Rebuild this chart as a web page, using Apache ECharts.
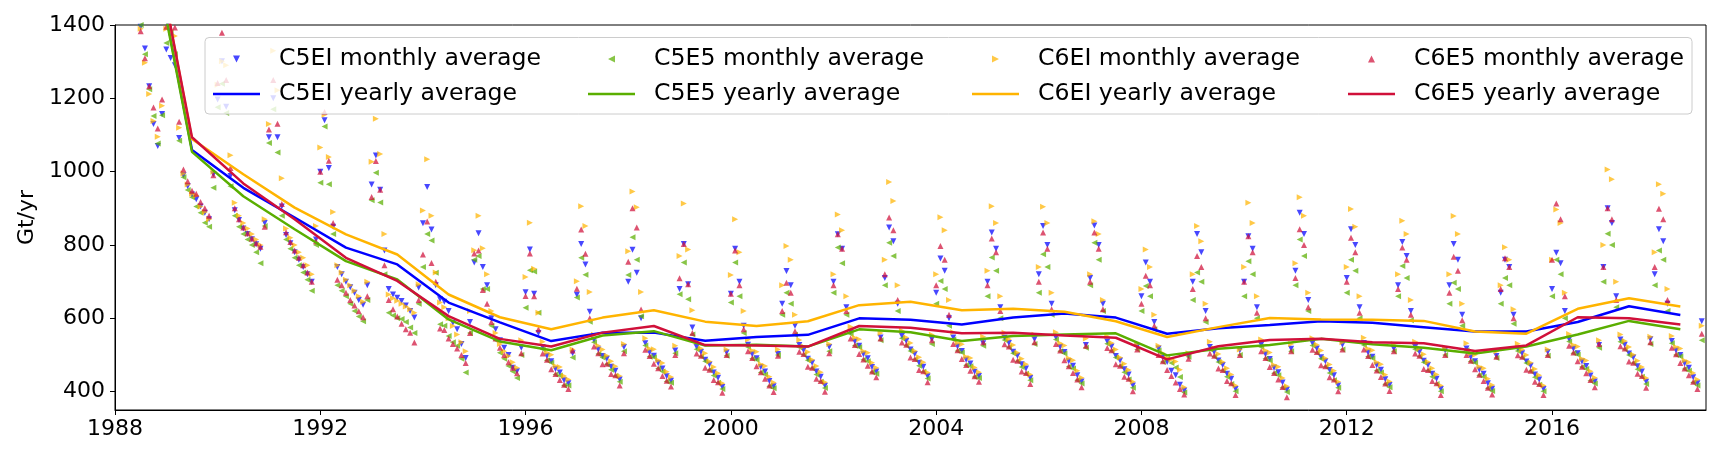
<!DOCTYPE html>
<html><head><meta charset="utf-8">
<script src="https://cdn.jsdelivr.net/npm/echarts@6.0.0/dist/echarts.min.js"></script>
<style>html,body{margin:0;padding:0;background:#fff}#c{width:1725px;height:455px}</style>
</head><body><div id="c"></div>
<script>
// monthly series start at July 1988 (x = year + month/12)
const monthlyStart = 1988.5;
const yearlyStart = 1988.5;

const c5eiMonthly = [
1395,1336,1233,1130,1070,1157,
1333,1310,1290,1092,990,960,938,925,905,888,870,993,
1197,1301,1177,988,895,868,845,830,816,802,790,860,
1094,1200,1094,905,827,805,780,760,740,720,700,815,
1000,1140,1010,850,740,720,700,685,670,650,637,690,
965,1044,951,785,680,665,656,647,635,620,602,684,
859,958,842,690,652,645,620,588,570,530,492,590,
752,832,740,690,600,570,540,520,500,465,456,520,
671,788,667,560,522,497,483,462,452,431,423,505,
664,803,747,618,541,515,497,490,468,457,433,522,
700,787,724,600,532,507,498,478,463,442,430,512,
680,803,693,575,522,508,487,474,452,438,413,507,
667,790,700,580,528,502,491,467,455,429,415,503,
640,729,690,580,527,513,490,479,455,441,416,522,
700,829,790,630,563,537,525,502,491,467,455,548,
710,848,810,640,552,538,515,503,479,468,442,543,
670,763,730,600,548,523,511,487,477,454,443,532,
700,834,790,630,547,533,509,498,475,463,437,543,
720,852,800,640,548,522,508,483,471,445,428,527,
710,853,800,640,537,523,497,485,461,447,417,523,
660,752,700,590,518,493,481,457,445,419,403,497,
700,830,780,620,522,508,485,473,449,435,407,513,
700,824,790,630,528,502,489,465,453,425,405,517,
730,888,830,650,532,518,494,483,459,445,417,528,
710,843,800,630,533,507,495,472,460,434,418,517,
690,808,770,620,522,508,484,473,449,435,407,513,
690,803,760,610,518,494,483,460,449,423,408,497,
670,760,740,610,517,505,482,471,447,433,407,508,
680,779,750,620,543,517,505,482,470,444,428,527,
740,900,860,660,542,528,504,493,469,455,427,543,
720,843,810,640,538,512,500,477,465,439,423,592
];
const c5e5Monthly = [
1400,1320,1225,1152,1077,1154,
1351,1380,1320,1084,985,950,930,905,888,861,850,956,
1176,1240,1160,960,880,850,830,815,800,780,750,852,
1078,1170,1052,880,815,790,765,745,725,705,675,800,
970,1123,966,830,690,675,660,640,620,605,592,650,
922,997,916,720,615,608,600,598,590,575,560,640,
740,830,812,724,584,580,552,535,525,490,452,560,
760,770,680,680,580,540,506,490,470,455,437,500,
629,731,728,615,516,485,479,447,444,417,417,493,
657,765,719,591,535,503,493,475,460,443,427,510,
718,821,760,606,526,495,494,463,455,428,424,505,
666,752,652,556,516,496,483,459,444,424,407,498,
643,752,660,560,522,490,487,452,447,415,409,500,
610,670,640,555,521,501,486,464,447,427,410,510,
670,793,750,610,557,525,521,487,483,453,449,540,
690,806,770,620,546,526,511,488,471,454,436,530,
640,702,680,580,542,511,507,472,469,440,437,525,
660,766,730,600,541,521,505,483,467,449,431,530,
670,775,740,610,542,510,504,468,463,431,422,520,
690,806,760,620,531,511,493,470,453,433,411,515,
620,688,660,570,512,481,490,478,466,440,398,495,
650,725,700,590,516,496,481,458,441,421,401,500,
660,756,720,600,522,490,485,450,445,411,399,510,
690,815,770,620,526,506,490,468,451,431,411,515,
670,760,730,600,527,495,491,457,452,420,412,510,
660,743,710,595,516,496,480,458,441,421,401,500,
640,697,680,580,512,482,479,445,441,409,402,492,
640,710,690,585,511,493,478,456,439,419,401,498,
660,760,720,600,537,505,501,467,462,430,422,520,
700,831,800,630,536,516,500,478,461,441,421,530,
690,785,760,620,532,500,496,462,457,425,417,540
];
const c6eiMonthly = [
1390,1297,1212,1138,1095,1180,
1390,1420,1370,1120,995,965,940,935,905,890,870,1000,
1237,1301,1290,1045,915,880,860,845,830,815,800,870,
1130,1330,1222,982,845,820,800,780,765,745,720,852,
1066,1155,1040,890,745,725,705,690,675,660,645,700,
1027,1144,1048,830,665,655,648,640,632,625,615,693,
894,1034,880,725,643,630,600,579,556,535,510,620,
786,880,791,720,620,560,530,510,497,480,465,540,
713,861,735,615,536,507,501,470,467,443,433,515,
701,906,852,672,555,525,515,498,483,469,443,530,
783,946,903,672,546,517,516,486,478,454,440,525,
770,913,788,622,536,518,505,482,467,450,423,515,
718,870,780,620,542,512,509,475,470,441,425,515,
690,797,760,610,541,523,508,487,470,453,426,530,
720,883,840,660,577,547,543,510,506,479,465,560,
760,972,920,690,566,548,533,511,494,480,452,555,
720,876,840,650,562,533,529,495,492,466,453,550,
730,906,860,660,561,543,527,506,490,475,447,555,
740,904,860,670,562,532,526,491,486,457,438,545,
720,865,830,650,551,533,515,493,476,459,427,530,
680,788,740,610,525,505,492,488,482,460,412,505,
720,852,810,640,536,518,503,481,464,447,417,515,
740,915,860,660,542,512,507,473,468,437,415,530,
750,930,880,670,546,528,512,491,474,457,427,535,
740,898,850,660,547,517,513,480,475,446,428,530,
720,866,830,650,536,518,502,481,464,447,417,520,
720,879,830,640,532,504,501,468,464,435,418,510,
690,794,760,625,531,515,500,479,462,445,417,515,
760,897,860,670,557,527,523,490,485,456,438,540,
800,1006,979,700,556,538,522,501,484,467,437,550,
780,966,940,680,552,522,518,485,480,451,433,580
];
const c6e5Monthly = [
1383,1309,1233,1175,1118,1197,
1395,1430,1393,1136,1006,974,948,940,917,900,880,990,
1242,1379,1250,1010,900,870,848,832,818,805,795,850,
1115,1250,1131,912,835,808,785,765,745,725,700,810,
1000,1163,1030,860,705,690,670,650,635,619,603,660,
931,1029,951,745,650,625,605,585,570,561,534,650,
774,864,751,700,572,568,545,530,518,500,478,560,
777,785,677,640,590,545,520,500,480,465,450,505,
661,777,660,570,504,487,461,448,432,419,407,512,
681,842,776,600,523,505,475,476,448,445,417,505,
754,900,848,624,514,497,476,464,443,430,414,500,
709,803,693,560,504,498,465,460,432,426,397,500,
667,785,690,570,510,492,469,453,435,417,399,498,
620,697,670,565,509,503,468,465,435,429,400,505,
690,829,790,620,545,527,503,488,471,455,439,545,
720,875,840,650,534,528,493,489,459,456,426,540,
690,797,760,610,530,513,489,473,457,442,427,535,
690,818,780,620,529,523,487,484,455,451,421,535,
700,834,790,625,530,512,486,469,451,433,412,525,
700,834,790,625,519,513,475,471,441,435,401,515,
640,716,690,580,500,483,459,443,425,407,392,490,
680,770,740,600,504,498,463,459,429,423,391,500,
700,824,780,615,510,492,467,451,433,413,385,510,
710,843,800,630,514,508,472,469,439,433,401,515,
700,820,780,615,515,497,473,458,440,422,402,510,
680,793,760,610,504,498,462,459,429,423,391,500,
670,768,730,595,500,484,461,446,429,411,392,495,
680,764,740,600,499,495,460,457,427,421,391,500,
760,913,870,660,525,507,483,468,450,432,412,530,
740,900,870,650,524,518,482,479,449,443,411,535,
740,899,870,650,520,502,478,463,445,427,407,558
];

// yearly averages, plotted at mid-year (1988.5 ... 2018.5)
const c5eiYearly = [1790,1059,956,875,793,747,643,589,538,561,561,539,549,555,600,596,583,602,613,602,558,573,582,592,588,576,564,564,590,633,609];
const c5e5Yearly = [1780,1054,933,843,756,706,597,537,513,553,565,526,528,523,570,562,538,552,556,559,499,517,527,544,529,520,504,523,556,593,570];
const c6eiYearly = [1820,1089,993,902,829,774,665,603,570,602,622,591,579,592,636,645,622,626,618,592,549,576,601,597,596,593,564,558,626,655,632];
const c6e5Yearly = [1820,1094,968,870,765,702,606,544,523,561,579,527,526,523,579,574,559,561,553,547,488,524,541,544,535,532,511,526,603,600,583];

const xTicks = [1988,1992,1996,2000,2004,2008,2012,2016];
const yTicks = [400,600,800,1000,1200,1400];

const FONT = 'DejaVu Sans';
const COLORS = {c5ei:'#0000ff', c5e5:'#5aae00', c6ei:'#ffb400', c6e5:'#d0103a'};
const SYM = {
  down:'path://M0,0 L10,0 L5,10 Z',
  left:'path://M10,0 L10,10 L0,5 Z',
  right:'path://M0,0 L10,5 L0,10 Z',
  up:'path://M5,0 L10,10 L0,10 Z'
};
// legend handles: 61 x h box; drawn part occupies the first 47 px (matplotlib handle), rest is the handle-text pad
const LEG_ICON = {
  down:'path://M0,0 L0,0 Z M20,0 L27,0 L23.5,7 Z M61,7 L61,7 Z',
  left:'path://M0,0 L0,0 Z M27,0 L27,7 L20,3.5 Z M61,7 L61,7 Z',
  right:'path://M0,0 L0,0 Z M20,0 L27,3.5 L20,7 Z M61,7 L61,7 Z',
  up:'path://M0,0 L0,0 Z M23.5,0 L27,7 L20,7 Z M61,7 L61,7 Z',
  line:'path://M0,0 L47,0 L47,2.6 L0,2.6 Z M61,2.6 L61,2.6 Z'
};

function monthlyPoints(arr){ return arr.map((v,i)=>[monthlyStart + i/12, v]); }
function yearlyPoints(arr){ return arr.map((v,i)=>[yearlyStart + i, v]); }

function scatter(name, arr, color, sym){
  return {name, type:'scatter', data: monthlyPoints(arr), symbol: sym, symbolSize: 6,
    color, itemStyle:{color, opacity:0.72}, z:1, clip:true, silent:true};
}
function line(name, arr, color){
  return {name, type:'line', data: yearlyPoints(arr), showSymbol:false, symbol:'none',
    color, lineStyle:{color, width:2.5}, z:2, clip:true, silent:true};
}
function leg(name, icon, left, top, ih){
  return {show:true, left, top, orient:'horizontal', padding:0, itemWidth:61, itemHeight:ih,
    itemGap:0, selectedMode:false, data:[{name, icon}], z:5,
    textStyle:{fontFamily:FONT, fontSize:23.6, color:'#000', lineHeight:36}};
}

const colX = [213, 588, 972, 1348];
const rowTop = [41, 76];

const chart = echarts.init(document.getElementById('c'), null, {renderer:'canvas'});
chart.setOption({
  animation:false,
  backgroundColor:'#fff',
  grid:{left:115, right:19, top:25, bottom:45, show:true, borderColor:'#000', borderWidth:1, backgroundColor:'rgba(0,0,0,0)'},
  xAxis:{type:'value', min:1988, max:2019,
    splitLine:{show:false},
    axisLine:{show:true, lineStyle:{color:'#000', width:1}},
    axisTick:{show:true, length:5, lineStyle:{color:'#000', width:1}, customValues:xTicks},
    axisLabel:{customValues:xTicks, formatter:v=>String(v), fontFamily:FONT, fontSize:22, color:'#000', margin:8}},
  yAxis:{type:'value', min:350, max:1400,
    name:'Gt/yr', nameLocation:'middle', nameRotate:90, nameGap:73,
    nameTextStyle:{fontFamily:FONT, fontSize:22, color:'#000'},
    splitLine:{show:false},
    axisLine:{show:true, lineStyle:{color:'#000', width:1}},
    axisTick:{show:true, length:5, lineStyle:{color:'#000', width:1}, customValues:yTicks},
    axisLabel:{customValues:yTicks, formatter:v=>String(v), fontFamily:FONT, fontSize:22, color:'#000', margin:10}},
  graphic:{elements:[{type:'rect', z:3, zlevel:0,
    shape:{x:205, y:37.5, width:1487, height:76.5, r:4},
    style:{fill:'rgba(255,255,255,0.8)', stroke:'#cccccc', lineWidth:1}}]},
  legend:[
    leg('C5EI monthly average', LEG_ICON.down, colX[0], rowTop[0], 7),
    leg('C5EI yearly average', LEG_ICON.line, colX[0], rowTop[1], 2.6),
    leg('C5E5 monthly average', LEG_ICON.left, colX[1], rowTop[0], 7),
    leg('C5E5 yearly average', LEG_ICON.line, colX[1], rowTop[1], 2.6),
    leg('C6EI monthly average', LEG_ICON.right, colX[2], rowTop[0], 7),
    leg('C6EI yearly average', LEG_ICON.line, colX[2], rowTop[1], 2.6),
    leg('C6E5 monthly average', LEG_ICON.up, colX[3], rowTop[0], 7),
    leg('C6E5 yearly average', LEG_ICON.line, colX[3], rowTop[1], 2.6)
  ],
  series:[
    scatter('C5EI monthly average', c5eiMonthly, COLORS.c5ei, SYM.down),
    scatter('C5E5 monthly average', c5e5Monthly, COLORS.c5e5, SYM.left),
    scatter('C6EI monthly average', c6eiMonthly, COLORS.c6ei, SYM.right),
    scatter('C6E5 monthly average', c6e5Monthly, COLORS.c6e5, SYM.up),
    line('C5EI yearly average', c5eiYearly, COLORS.c5ei),
    line('C5E5 yearly average', c5e5Yearly, COLORS.c5e5),
    line('C6EI yearly average', c6eiYearly, COLORS.c6ei),
    line('C6E5 yearly average', c6e5Yearly, COLORS.c6e5)
  ]
});
</script></body></html>
